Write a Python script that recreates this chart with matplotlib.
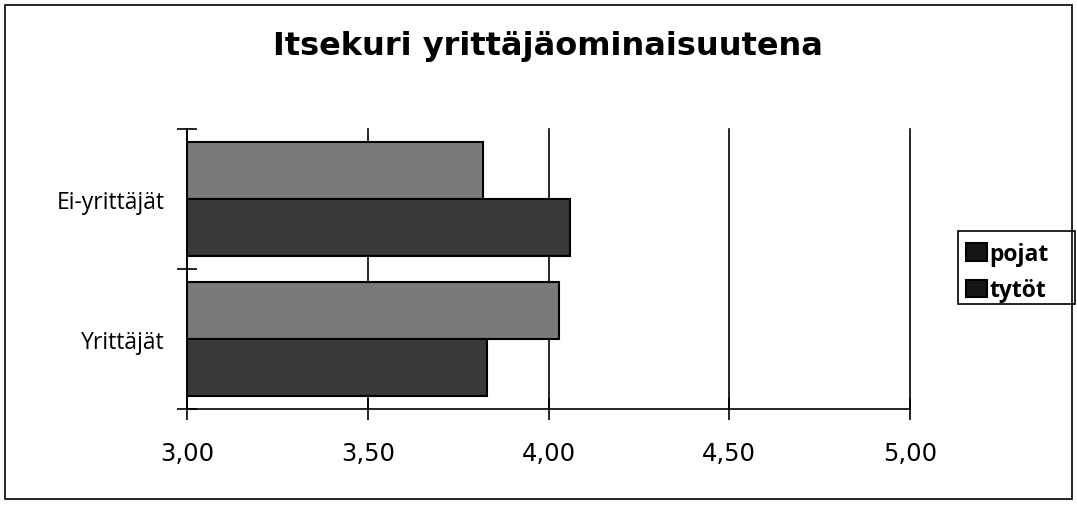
import numpy as np
import matplotlib
matplotlib.use("Agg")
import matplotlib.pyplot as plt
from matplotlib.patches import Rectangle

plt.rcParams['font.family'] = ['DejaVu Sans']

categories = ["Yrittäjät", "Ei-yrittäjät"]
pojat = [4.03, 3.82]
tytot = [3.83, 4.06]
xticks = [3.0, 3.5, 4.0, 4.5, 5.0]
xticklabels = ["3,00", "3,50", "4,00", "4,50", "5,00"]

fig = plt.figure(figsize=(10.77, 5.06), dpi=100)
ax = fig.add_axes([187 / 1077, 1 - 410 / 506, (910 - 187) / 1077, 280 / 506])

y = np.arange(len(categories))
h = 0.405
ax.barh(y + h / 2, np.array(pojat) - 3, height=h, left=3, color='#7a7a7a',
        edgecolor='black', linewidth=1.5, label='pojat', zorder=3)
ax.barh(y - h / 2, np.array(tytot) - 3, height=h, left=3, color='#3a3a3a',
        edgecolor='black', linewidth=1.5, label='tytöt', zorder=3)

ax.set_xlim(3.0, 5.0)
ax.set_ylim(-0.5, 1.5)
ax.set_xticks(xticks)
ax.set_xticklabels(xticklabels, fontsize=17.5)
ax.set_yticks(y)
ax.set_yticklabels(categories, fontsize=16.5, family='Open Sans')
ax.tick_params(axis='y', length=0, pad=16)
ax.tick_params(axis='x', direction='inout', length=16, width=1.2, pad=15)
ax.set_yticks([-0.5, 0.5, 1.5], minor=True)
ax.tick_params(axis='y', which='minor', direction='inout', length=14, width=1.2)

ax.grid(axis='x', color='black', linewidth=1.2, zorder=0)
for gl in ax.get_xgridlines():
    gl.set_clip_on(False)
for s in ['top', 'right']:
    ax.spines[s].set_visible(False)
ax.spines['left'].set_linewidth(1.2)
ax.spines['bottom'].set_linewidth(1.2)

fig.text(548 / 1077, 1 - 46 / 506, "Itsekuri yrittäjäominaisuutena",
         ha='center', va='center', fontsize=23, fontweight='bold')

leg = fig.legend(loc='center left', bbox_to_anchor=(966 / 1077, 1 - 273 / 506),
                 prop={'family': 'Open Sans', 'weight': 'bold', 'size': 16.5},
                 frameon=False, handlelength=0.9, handleheight=0.8,
                 handletextpad=0.12, borderpad=0, labelspacing=0.55,
                 borderaxespad=0)
for p in leg.get_patches():
    p.set_facecolor('#151515')

# legend frame (wider than its contents in the original)
fig.patches.append(Rectangle((958 / 1077, 1 - 305 / 506), 117 / 1077, 73 / 506,
                             transform=fig.transFigure, fill=False,
                             edgecolor='black', linewidth=1.2))

# outer chart border
fig.patches.append(Rectangle((5 / 1077, 6 / 506), 1067 / 1077, 494 / 506,
                             transform=fig.transFigure, fill=False,
                             edgecolor='black', linewidth=1.2))

fig.savefig("out.png", dpi=100)
